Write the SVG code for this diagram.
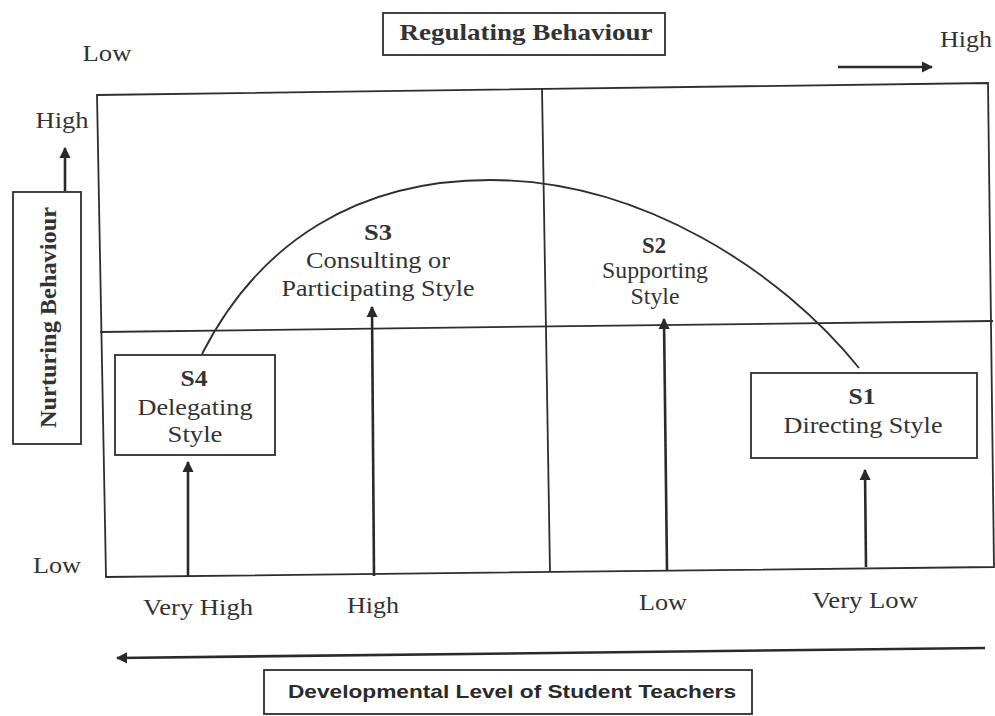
<svg xmlns="http://www.w3.org/2000/svg" width="995" height="716" viewBox="0 0 995 716">
<style>
  .ln { fill: none; stroke: #2e2e2e; stroke-width: 1.8; }
  .ar { fill: none; stroke: #2a2a2a; stroke-width: 2.6; marker-end: url(#ah); }
  .box { fill: #ffffff; stroke: #2e2e2e; stroke-width: 1.8; }
  .t { font-family: "Liberation Serif", "Times New Roman", serif; font-size: 23.5px; fill: #333333; text-anchor: middle; }
  .b { font-weight: bold; }
  .s { font-family: "Liberation Sans", Arial, sans-serif; font-weight: bold; font-size: 19px; fill: #2a2a2a; text-anchor: middle; }
</style>
<defs>
  <marker id="ah" viewBox="0 0 10 10" refX="9" refY="5" markerWidth="4.4" markerHeight="4.4" orient="auto" markerUnits="strokeWidth">
    <path d="M0,0 L10,5 L0,10 Z" fill="#2a2a2a"/>
  </marker>
</defs>
<rect x="0" y="0" width="995" height="716" fill="#ffffff"/>

<g id="frame">
  <polygon class="ln" points="97,95 988,83 994,567 106,577"/>
  <line class="ln" x1="100" y1="332" x2="993" y2="321"/>
  <line class="ln" x1="542" y1="88" x2="550" y2="572"/>
</g>

<g id="regulating-behaviour">
  <rect class="box" x="383" y="13" width="282" height="42"/>
  <text class="t b" x="526" y="40" textLength="253" lengthAdjust="spacingAndGlyphs">Regulating Behaviour</text>
</g>
<g id="label-top-low"><text class="t" x="107" y="61" textLength="49" lengthAdjust="spacingAndGlyphs">Low</text></g>
<g id="label-top-high"><text class="t" x="966" y="47" textLength="52" lengthAdjust="spacingAndGlyphs">High</text></g>

<g id="nurturing-behaviour">
  <rect class="box" x="13" y="192" width="68" height="252"/>
  <text class="t b" transform="translate(56,317.5) rotate(-90)" x="0" y="0" textLength="221" lengthAdjust="spacingAndGlyphs">Nurturing Behaviour</text>
</g>
<g id="label-left-high"><text class="t" x="62" y="128" textLength="53" lengthAdjust="spacingAndGlyphs">High</text></g>
<g id="label-left-low"><text class="t" x="57" y="573" textLength="48" lengthAdjust="spacingAndGlyphs">Low</text></g>

<g id="s4">
  <rect class="box" x="115" y="355" width="160" height="100"/>
  <text class="t b" x="194" y="386" textLength="27" lengthAdjust="spacingAndGlyphs">S4</text>
  <text class="t" x="195" y="415" textLength="115" lengthAdjust="spacingAndGlyphs">Delegating</text>
  <text class="t" x="195" y="442" textLength="55" lengthAdjust="spacingAndGlyphs">Style</text>
</g>

<g id="s3">
  <text class="t b" x="378" y="240" textLength="28" lengthAdjust="spacingAndGlyphs">S3</text>
  <text class="t" x="378" y="268" textLength="144" lengthAdjust="spacingAndGlyphs">Consulting or</text>
  <text class="t" x="378" y="296" textLength="193" lengthAdjust="spacingAndGlyphs">Participating Style</text>
</g>

<g id="s2">
  <text class="t b" x="654" y="253" textLength="24" lengthAdjust="spacingAndGlyphs">S2</text>
  <text class="t" x="655" y="278" textLength="106" lengthAdjust="spacingAndGlyphs">Supporting</text>
  <text class="t" x="655" y="304" textLength="49" lengthAdjust="spacingAndGlyphs">Style</text>
</g>

<g id="s1">
  <rect class="box" x="751" y="373" width="226" height="85"/>
  <text class="t b" x="862" y="404" textLength="27" lengthAdjust="spacingAndGlyphs">S1</text>
  <text class="t" x="863" y="433" textLength="159" lengthAdjust="spacingAndGlyphs">Directing Style</text>
</g>

<g id="label-very-high"><text class="t" x="198" y="615" textLength="110" lengthAdjust="spacingAndGlyphs">Very High</text></g>
<g id="label-high"><text class="t" x="373" y="613" textLength="52" lengthAdjust="spacingAndGlyphs">High</text></g>
<g id="label-low"><text class="t" x="663" y="610" textLength="48" lengthAdjust="spacingAndGlyphs">Low</text></g>
<g id="label-very-low"><text class="t" x="865" y="608" textLength="106" lengthAdjust="spacingAndGlyphs">Very Low</text></g>

<g id="developmental-level">
  <rect class="box" x="264" y="670" width="488" height="44"/>
  <text class="s" x="512" y="698" textLength="448" lengthAdjust="spacingAndGlyphs">Developmental Level of Student Teachers</text>
</g>

<g id="connectors">
  <path class="ln" d="M202,354 C260,240 360,180 490,180 C640,180 780,270 859,368"/>
  <line class="ar" x1="188" y1="577" x2="188" y2="462"/>
  <line class="ar" x1="374" y1="576" x2="372" y2="307"/>
  <line class="ar" x1="667" y1="570" x2="664" y2="319"/>
  <line class="ar" x1="866" y1="567" x2="865" y2="470"/>
  <line class="ar" x1="65" y1="191" x2="65" y2="148"/>
  <line class="ar" x1="838" y1="67" x2="932" y2="67"/>
  <line class="ar" x1="985" y1="648" x2="117" y2="658"/>
</g>
</svg>
